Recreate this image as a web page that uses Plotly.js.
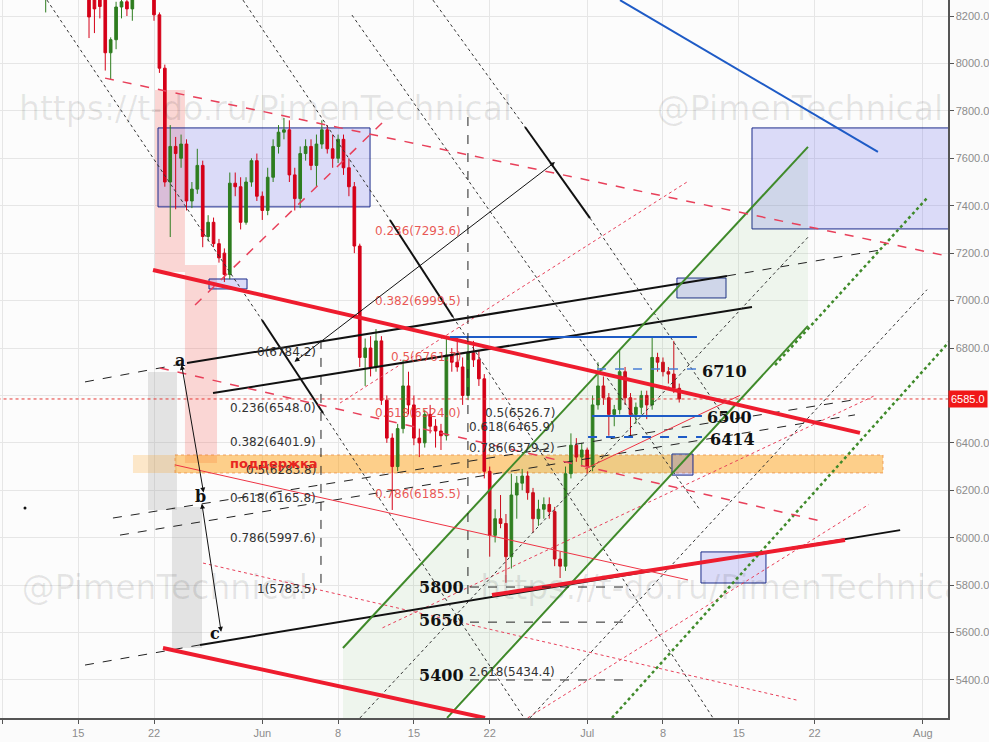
<!DOCTYPE html>
<html><head><meta charset="utf-8">
<script src="https://cdn.plot.ly/plotly-3.0.1.min.js"></script>
<style>html,body{margin:0;padding:0;background:#fbfbfb}#chart{width:989px;height:742px}</style>
</head><body><div id="chart"></div>
<script>
// 12h candles starting 2018-05-08 00:00 (UTC)
const startDate = '2018-05-08T00:00:00Z';
const open  = [9380,9200,9180,9330,9300,9050,8900,8500,8330,8420,8480,8600,8700,8650,8550,8480,8300,8280,8300,8270,8045,8100,8238,8260,8230,8330,8520,8460,
 8400,8205,7980,7500,7650,7600,7660,7420,7470,7570,7270,7330,7240,7200,7110,7495,7480,7330,7500,7590,7440,7380,7520,7650,7710,7720,7530,7430,7620,7650,7570,7660,7720,7640,7600,7680,7560,7480,
 7230,6760,6800,6720,6830,6580,6420,6300,6460,6640,6560,6420,6400,6520,6470,6450,6430,6770,6740,6720,6600,6780,6750,6670,
 6280,6010,6080,6060,5920,6180,6230,6260,6190,6080,6120,6140,6110,5910,5880,6270,6390,6340,6370,6300,6560,6640,6590,6520,6540,6700,6590,6520,6550,6600,6560,6760,6740,6700,6690,6630];
const high  = [9470,9300,9350,9380,9330,9100,9000,8620,8530,8520,8650,8750,8870,8700,8600,8520,8360,8300,8320,8290,8110,8260,8300,8320,8350,8600,8560,8480,
 8420,8215,7995,7740,7690,7700,7680,7500,7640,7590,7360,7350,7260,7220,7540,7540,7520,7520,7600,7620,7460,7560,7680,7740,7770,7760,7560,7650,7680,7680,7700,7760,7740,7700,7700,7700,7600,7500,
 7240,6840,6850,6880,6850,6600,6440,6480,6750,6700,6600,6460,6540,6560,6500,6480,6850,6800,6850,6760,6820,6830,6790,6690,
 6300,6120,6180,6100,6270,6260,6290,6280,6210,6160,6170,6170,6130,5940,6300,6440,6420,6400,6380,6600,6740,6680,6610,6560,6790,6720,6610,6570,6620,6620,6850,6780,6760,6720,6830,6650];
const low   = [9150,9050,9100,9150,8950,8850,8450,8350,8215,8330,8400,8550,8320,8380,8420,8290,8107,8128,8190,7970,7930,8060,8190,8200,8180,8300,8420,8320,
 8180,7960,7480,7268,7385,7560,7380,7390,7450,7225,7250,7225,7160,7078,7090,7440,7300,7320,7480,7420,7340,7360,7500,7620,7680,7500,7380,7390,7590,7550,7480,7640,7620,7560,7580,7530,7440,7200,
 6720,6640,6680,6700,6560,6400,6117,6280,6440,6520,6390,6340,6380,6440,6380,6370,6410,6700,6700,6560,6580,6720,6640,6250,
 5920,5980,6040,5810,5870,6080,6200,6160,6020,6050,6080,6080,5880,5830,5860,6250,6320,6300,6270,6280,6540,6560,6430,6470,6520,6560,6430,6480,6520,6500,6540,6700,6680,6650,6610,6570];
const close = [9200,9180,9330,9300,9050,8900,8500,8450,8420,8480,8600,8700,8650,8550,8480,8330,8196,8230,8240,8045,8100,8238,8260,8230,8330,8520,8460,8400,
 8205,7980,7500,7650,7620,7660,7420,7470,7570,7270,7330,7240,7180,7110,7495,7480,7330,7500,7590,7440,7380,7520,7650,7710,7720,7530,7430,7620,7650,7570,7660,7720,7640,7600,7680,7560,7480,7230,
 6760,6800,6720,6830,6580,6420,6300,6460,6640,6560,6420,6400,6520,6470,6450,6430,6770,6740,6720,6600,6780,6750,6670,6280,
 6010,6080,6060,5920,6180,6230,6260,6190,6080,6120,6140,6110,5910,5880,6270,6390,6340,6370,6300,6560,6640,6590,6520,6540,6700,6590,6520,6550,6600,6560,6760,6740,6700,6690,6630,6585];
const lastPrice = 6585;
const xTickDates  = ['2018-05-08','2018-05-15','2018-05-22','2018-06-01','2018-06-08','2018-06-15','2018-06-22','2018-07-01','2018-07-08','2018-07-15','2018-07-22','2018-08-01'];
const xTickLabels = ['8','15','22','Jun','8','15','22','Jul','8','15','22','Aug'];
const yTickVals   = [5400,5600,5800,6000,6200,6400,6600,6800,7000,7200,7400,7600,7800,8000,8200];
const yTickLabels = ['5400.0','5600.0','5800.0','6000.0','6200.0','6400.0','','6800.0','7000.0','7200.0','7400.0','7600.0','7800.0','8000.0','8200.0'];
const fibLeft  = [[0,6784.2],[0.236,6548.0],[0.382,6401.9],[0.5,6283.8],[0.618,6165.8],[0.786,5997.6],[1,5783.5]];
const fibRed   = [[0.236,7293.6],[0.382,6999.5],[0.5,6761.7],[0.618,6524.0],[0.786,6185.5]];
const fibMid   = [[0.5,6526.7],[0.618,6465.9],[0.786,6379.2],[2.618,5434.4]];
const levelLabels = [['6710',6699],['6500',6505],['6414',6416]];
const lowLabels = [['5800',5792],['5650',5649],['5400',5417]];

// helpers: day offset from 2018-05-01 -> date string
const T = d => new Date(Date.UTC(2018,4,1) + d*86400000).toISOString().slice(0,16).replace('T',' ');
const dates = open.map((_,i)=> new Date(Date.parse(startDate) + i*43200000).toISOString().slice(0,16).replace('T',' '));

const shapes = [];
function seg(d0,p0,d1,p1,color,width,dash){shapes.push({type:'line',xref:'x',yref:'y',x0:T(d0),y0:p0,x1:T(d1),y1:p1,layer:'above',line:{color:color,width:width,dash:dash||'solid'}});}
function box(d0,p0,d1,p1,fill,lineColor,lw,dash){shapes.push({type:'rect',xref:'x',yref:'y',x0:T(d0),y0:p0,x1:T(d1),y1:p1,layer:'between',fillcolor:fill,line:{color:lineColor||'rgba(0,0,0,0)',width:lw||0,dash:dash||'solid'}});}

// bands
box(21.09,7888,23.86,7121,'rgba(244,67,54,0.2)');
box(23.86,7150,26.82,6315,'rgba(244,67,54,0.2)');
box(20.45,6699,23.12,6117,'rgba(150,150,150,0.25)');
box(22.66,6129,25.43,5535,'rgba(150,150,150,0.25)');
box(19.06,6349,22.94,6273,'rgba(255,152,0,0.2)');
box(22.94,6349,88.32,6273,'rgba(255,152,0,0.45)','rgba(230,120,40,0.6)',1,'dot');
// blue boxes
const bf='rgba(90,90,235,0.2)', bl='#1a2a8a';
box(21.37,7728,40.95,7395,bf,bl,1);
box(26.08,7091,29.59,7049,bf,bl,1);
box(69.29,7095,73.82,7011,bf,bl,1);
box(76.22,7728,94.5,7302,bf,bl,1);
box(71.51,5940,77.51,5809,bf,bl,1);
box(68.83,6353,70.77,6264,'rgba(90,90,235,0.25)',bl,1);

// red dotted last price
seg(6,lastPrice,96,lastPrice,'#e53935',1,'dot');

// thin red dotted helper lines
seg(38.18,6568,70.22,7500,'#e8405a',1,'dot');
seg(25.53,5893,80.37,5315,'#e8405a',1,'dot');
seg(55.5,5240,87.0,6140,'#e8405a',1,'dot');
seg(42.1,5620,87.6,6600,'#e8405a',1,'dot');
// black dashed rising lines
seg(17.21,6083,85.45,6580,'#222',1,'dash');
seg(17.86,6011,85.73,6518,'#222',1,'dash');

// black main lines
seg(24.05,6737,73.91,7104,'#111',2);
seg(14.63,6657,24.05,6737,'#222',1,'dash');
seg(73.91,7104,88.04,7213,'#222',1,'dash');
seg(26.45,6610,76.22,6973,'#111',2);
seg(25.25,5548,89.9,6032,'#111',2);
seg(14.63,5463,25.25,5548,'#222',1,'dash');
// black thick diagonal segments and dotted extensions
seg(30.97,6918,36.61,6526,'#111',2);
seg(11.12,8267,30.97,6918,'#333',1,'dot');
seg(36.61,6526,55.17,5240,'#333',1,'dot');
seg(42.79,7340,48.61,6931,'#111',2);
seg(29.22,8267,42.79,7340,'#333',1,'dot');
seg(48.61,6931,72.62,5240,'#333',1,'dot');
seg(55.26,7732,61.26,7348,'#111',2);
seg(46.76,8267,55.26,7732,'#333',1,'dot');
seg(61.26,7348,73.8,6500,'#333',1,'dot');
seg(39.28,8204,71.42,6117,'#333',1,'dot');
// gray dotted parallel to channel
seg(40.02,5240,81.57,7276,'#333',1,'dot');
seg(55.72,5240,92.38,7046,'#333',1,'dot');
// green channel
seg(38.45,5535,81.39,7648,'#3f8a2a',2);
seg(48.06,5240,81.39,6893,'#3f8a2a',2);
seg(63.29,5240,94.5,6830,'#3f8a2a',2.5,'dot');
seg(78.35,6728,92.38,7432,'#3f8a2a',2.5,'dot');
// red lines
seg(20.91,7129,86.19,6442,'#ee1c2e',4);
seg(21.83,5535,51.57,5240,'#ee1c2e',4);
seg(52.21,5758,84.81,5990,'#ee1c2e',4);
seg(22.94,6307,70.31,5822,'#ee3344',1);
seg(60.8,6290,75.1,6600,'#ee3344',1);
seg(16.48,7938,96.81,7163,'#e8405a',1.5,'dash');
seg(21.55,6716,82.96,6066,'#e8405a',1.5,'dash');
seg(24.79,6981,42.33,7761,'#e8405a',1.5,'dash');
// blue lines
seg(64.03,8267,87.85,7627,'#1e5bc6',2);
seg(48.33,6846,71.14,6846,'#1e5bc6',2);
seg(61.91,6711,71.42,6711,'#4a7fd6',1.5,'dash');
seg(61.45,6513,71.6,6513,'#1e5bc6',2);
seg(61.08,6425,71.6,6425,'#1e5bc6',2,'dash');
// dashed verticals & horizontals
seg(36.42,6834,36.42,5780,'#222',1,'dash');
seg(49.99,7774,49.99,5737,'#222',1,'dash');
seg(50.18,5792,64.68,5792,'#222',1,'dash');
seg(50.18,5644,64.68,5644,'#222',1,'dash');
seg(50.18,5400,64.68,5400,'#222',1,'dash');

const annotations = [];
function txt(d,p,s,o){annotations.push(Object.assign({xref:'x',yref:'y',x:T(d),y:p,text:s,showarrow:false,font:{family:'DejaVu Sans',size:12,color:'#333'}},o||{}));}
fibLeft.forEach(f=>txt(36.14,f[1],f[0]+'('+f[1].toFixed(1)+')',{xanchor:'right'}));
fibRed.forEach(f=>txt(49.53,f[1],f[0]+'('+f[1].toFixed(1)+')',{xanchor:'right',font:{family:'DejaVu Sans',size:12,color:'rgba(229,57,53,0.85)'}}));
fibMid.forEach(f=>txt(58.21,f[1],f[0]+'('+f[1].toFixed(1)+')',{xanchor:'right'}));
const bold = {family:'DejaVu Serif',size:16,color:'#111'};
levelLabels.forEach((l,i)=>txt([71.42,71.88,72.16][i],l[1],'<b>'+l[0]+'</b>',{xanchor:'left',font:bold}));
lowLabels.forEach(l=>txt(49.81,l[1],'<b>'+l[0]+'</b>',{xanchor:'right',font:bold}));
txt(23.4,6749,'<b>a</b>',{font:bold});
txt(25.25,6172,'<b>b</b>',{font:bold});
txt(26.63,5598,'<b>c</b>',{font:bold});
txt(32.08,6311,'<b>поддержка</b>',{font:{family:'DejaVu Sans',size:13,color:'#e8261f'}});
// arrows
function arr(d0,p0,d1,p1,side){annotations.push({xref:'x',yref:'y',axref:'x',ayref:'y',x:T(d1),y:p1,ax:T(d0),ay:p0,text:'',showarrow:true,arrowhead:2,arrowsize:1,arrowwidth:1,arrowcolor:'#111',arrowside:side||'end'});}
arr(25.6,6184,23.55,6729,'end+start');
arr(25.4,6150,27.2,5603,'end+start');
arr(33.84,6737,58.03,7584,'end+start');
// price label on axis
annotations.push({xref:'paper',yref:'y',x:1,y:lastPrice,xanchor:'left',yanchor:'middle',text:'6585.0',showarrow:false,bgcolor:'#f01818',font:{family:'Liberation Sans',size:11,color:'#fff'},borderpad:2});

const wm = {family:'DejaVu Sans',size:33,color:'rgba(0,0,0,0.09)'};
const traces = [
 {type:'scatter',x:[T(38.45),T(81.39),T(81.39),T(38.45)],y:[5535,7648,6893,4780],fill:'toself',fillcolor:'rgba(76,160,70,0.08)',line:{width:0},mode:'lines',hoverinfo:'skip'},
 {type:'scatter',mode:'text',x:[T(31.3),T(80.65),T(22.0),T(73.9)],y:[7795,7795,5775,5775],text:['https://t-do.ru/PimenTechnical','@PimenTechnical','@PimenTechnical','https://t-do.ru/PimenTechnical'],textfont:wm,cliponaxis:true,hoverinfo:'skip'},
 {type:'candlestick',x:dates,open:open,high:high,low:low,close:close,
  increasing:{line:{color:'#2e7d1f',width:1},fillcolor:'#2e7d1f'},
  decreasing:{line:{color:'#d50018',width:1},fillcolor:'#d50018'},whiskerwidth:0},
 {type:'scatter',mode:'markers',x:[T(9.09)],y:[6125],marker:{size:3,color:'#111'},hoverinfo:'skip'}
];

const layout = {
 width:989,height:742,margin:{l:0,r:41,t:0,b:24},
 paper_bgcolor:'#fbfbfb',plot_bgcolor:'#fcfcfc',showlegend:false,
 boxgap:0.3,
 xaxis:{type:'date',range:[T(6.78),T(94.32)],rangeslider:{visible:false},tickvals:xTickDates,ticktext:xTickLabels,
   showgrid:true,gridcolor:'#e6e6e6',ticks:'outside',ticklen:4,tickcolor:'#555',showline:true,linecolor:'#555',linewidth:1.5,
   tickfont:{family:'Liberation Sans Narrow, Liberation Sans',size:11,color:'#8c8c8c'},zeroline:false,fixedrange:true},
 yaxis:{side:'right',range:[5239.7,8267.5],tickvals:yTickVals,ticktext:yTickLabels,
   showgrid:true,gridcolor:'#e6e6e6',ticks:'outside',ticklen:4,tickcolor:'#555',showline:true,linecolor:'#555',linewidth:1.5,
   tickfont:{family:'Liberation Sans',size:11,color:'#8c8c8c'},zeroline:false},
 shapes:shapes,annotations:annotations
};
Plotly.newPlot('chart',traces,layout,{displayModeBar:false,staticPlot:true});
</script></body></html>
